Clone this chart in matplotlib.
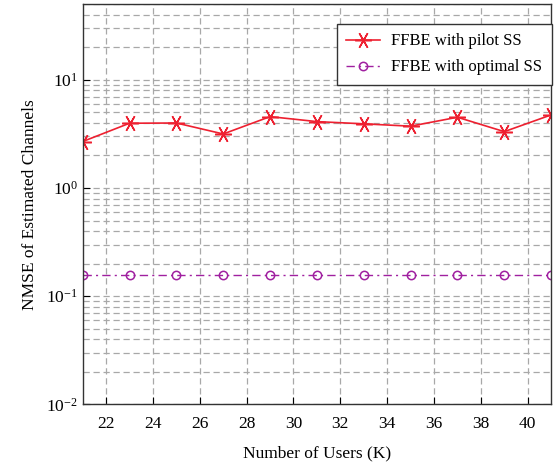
import numpy as np
import matplotlib
matplotlib.use('Agg')
import matplotlib.pyplot as plt
from matplotlib.ticker import LogLocator, FixedLocator

plt.rcParams['font.family'] = ['Liberation Serif', 'DejaVu Serif']
plt.rcParams['mathtext.fontset'] = 'stix'

users = [21, 23, 25, 27, 29, 31, 33, 35, 37, 39, 41]
nmse_pilot = [2.69, 3.97, 3.99, 3.16, 4.57, 4.11, 3.92, 3.73, 4.51, 3.32, 4.74]
nmse_optimal = [0.156, 0.156, 0.156, 0.156, 0.156, 0.156, 0.156, 0.156, 0.156, 0.156, 0.156]
xticks = [22, 24, 26, 28, 30, 32, 34, 36, 38, 40]

fig = plt.figure(figsize=(5.55, 4.67), dpi=100)
ax = fig.add_axes([0.149, 0.134, 0.844, 0.857])

# asterisk marker like matlab '*'
ax.plot(users, nmse_pilot, '-', color='#ee2030', marker=(6, 2, 90), markersize=12,
        markeredgewidth=1.1, lw=1.2, label='FFBE with pilot SS')
ax.plot(users, nmse_optimal, color='#a020a0', linestyle=(0, (6, 3, 1.5, 3)),
        marker='o', markersize=6, markerfacecolor='none', markeredgewidth=1.1,
        lw=1.0, label='FFBE with optimal SS')

ax.set_yscale('log')
ax.set_xlim(21, 41)
ax.set_ylim(0.01, 50)
ax.xaxis.set_major_locator(FixedLocator(xticks))
ax.yaxis.set_major_locator(LogLocator(base=10, numticks=10))
ax.yaxis.set_minor_locator(LogLocator(base=10, subs=np.arange(2, 10), numticks=20))

ax.grid(True, which='both', axis='y', color='#a8a8a8', linestyle=(0, (5, 3)), lw=0.9)
ax.grid(True, which='major', axis='x', color='#a8a8a8', linestyle=(0, (5, 3)), lw=0.9)
ax.set_axisbelow(True)

ax.tick_params(axis='both', which='both', direction='in', labelsize=12.5, length=5)
ax.tick_params(axis='x', pad=8)
ax.tick_params(axis='y', which='minor', length=0)
for s in ax.spines.values():
    s.set_linewidth(1.0)
    s.set_color('#333333')

ax.set_xlabel('Number of Users (K)', fontsize=12.5, labelpad=10)
ax.set_ylabel('NMSE of Estimated Channels', fontsize=12.5, labelpad=6)

leg = ax.legend(loc='upper right', bbox_to_anchor=(1.001, 0.95), borderaxespad=0,
                fontsize=12, fancybox=False, framealpha=1, edgecolor='#333333',
                handlelength=2.0, handletextpad=0.7, borderpad=0.55,
                labelspacing=0.6)
leg.get_frame().set_linewidth(1.0)

fig.savefig('out.png', dpi=100)
